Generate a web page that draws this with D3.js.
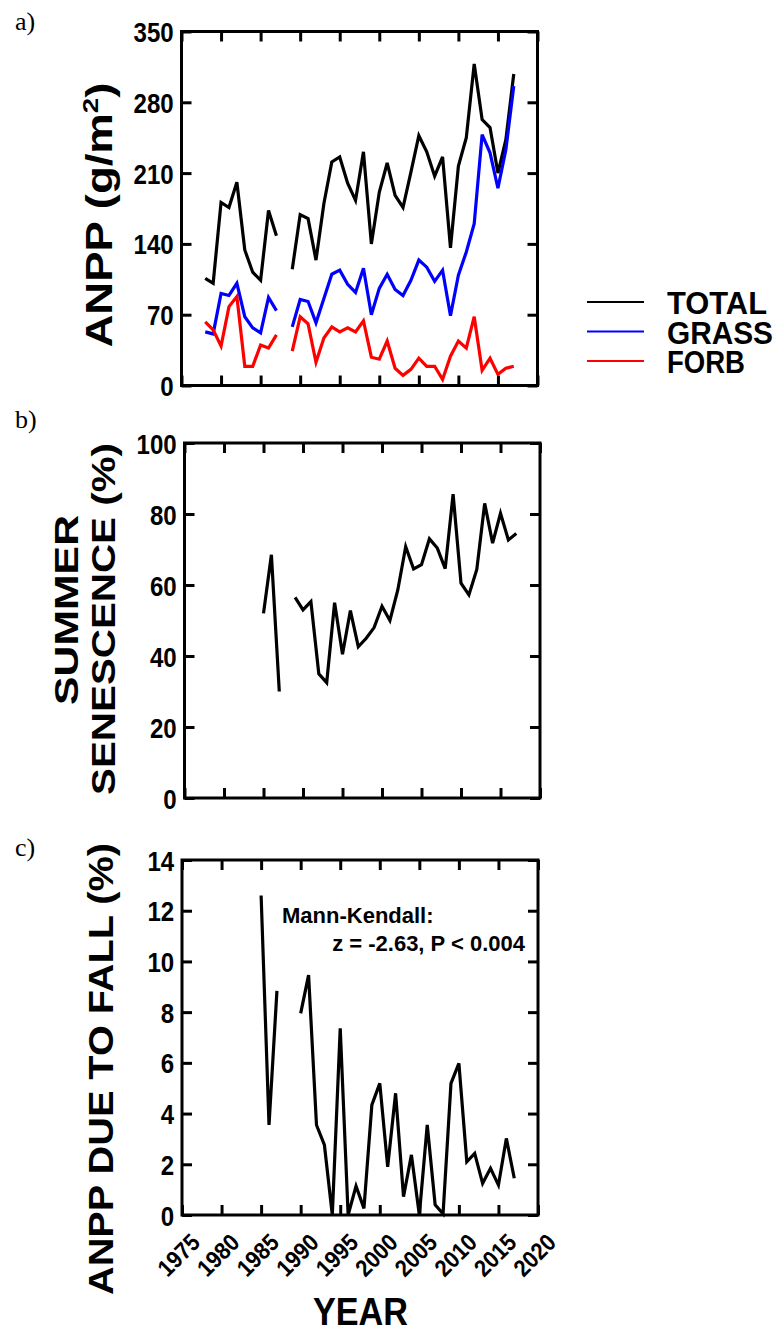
<!DOCTYPE html>
<html>
<head>
<meta charset="utf-8">
<script src="https://cdn.jsdelivr.net/npm/d3@7"></script>
<style>
  body { margin: 0; background: #fff; }
  svg text { font-family: "Liberation Sans", Arial, sans-serif; font-weight: bold; }
</style>
</head>
<body>
<div id="graph-container"></div>
<script>
// Data
var yearsA = [1978, 1979, 1980, 1981, 1982, 1983, 1984, 1985, 1986, 1987, 1988, 1989,
  1990, 1991, 1992, 1993, 1994, 1995, 1996, 1997, 1998, 1999, 2000, 2001, 2002, 2003,
  2004, 2005, 2006, 2007, 2008, 2009, 2010, 2011, 2012, 2013, 2014, 2015, 2016, 2017];
var totalANPP = [106, 101, 181, 176, 201, 134, 112, 104, 173, 148, null, 115,
  169, 165, 124, 180, 221, 226, 200, 183, 231, 140, 191, 220, 188, 176,
  211, 247, 231, 207, 226, 136, 217, 245, 318, 263, 255, 210, 243, 308];
var grassANPP = [53, 51, 91, 89, 101, 68, 57, 52, 87, 74, null, 58,
  85, 83, 62, 86, 110, 114, 100, 92, 116, 70, 96, 110, 95, 89,
  104, 124, 117, 103, 114, 69, 109, 132, 160, 248, 230, 195, 233, 296];
var forbANPP = [63, 55, 39, 78, 88, 19, 19, 40, 37, 50, null, 34,
  68, 61, 23, 47, 58, 53, 57, 53, 64, 28, 26, 44, 17, 10,
  16, 27, 19, 19, 6, 29, 44, 37, 68, 15, 27, 11, 17, 19];

var yearsB = [1985, 1986, 1987, 1988, 1989, 1990, 1991, 1992, 1993, 1994, 1995,
  1996, 1997, 1998, 1999, 2000, 2001, 2002, 2003, 2004, 2005, 2006, 2007, 2008,
  2009, 2010, 2011, 2012, 2013, 2014, 2015, 2016, 2017];
var senescence = [52, 68.5, 30, null, 56.5, 53, 55.3, 35, 32.5, 55, 40.5,
  52.8, 42.6, 45, 48, 54, 50, 58.6, 70.8, 64.5, 65.7, 73, 70.4, 64.6,
  85.6, 60.5, 57.2, 64.4, 83, 71.8, 80.2, 72.7, 74.5];
var fallANPP = [12.6, 3.55, 8.84, null, null, 7.95, 9.46, 3.55, 2.76, 0, 7.36,
  0, 1.14, 0.26, 4.34, 5.19, 1.9, 4.8, 0.72, 2.37, 0, 3.55, 0.4, 0.05,
  5.19, 5.98, 2.1, 2.43, 1.25, 1.84, 1.18, 3.02, 1.45];

var yearTicks = [1975, 1980, 1985, 1990, 1995, 2000, 2005, 2010, 2015, 2020];
var ticksA = [0, 70, 140, 210, 280, 350];
var ticksB = [0, 20, 40, 60, 80, 100];
var ticksC = [0, 2, 4, 6, 8, 10, 12, 14];

var legendNames = ["TOTAL", "GRASS", "FORB"];
var legendColors = ["#000000", "#0000ff", "#ff0000"];

var svgWidth = 781;
var svgHeight = 1333;

var svg = d3.select("#graph-container")
  .append("svg")
  .attr("width", svgWidth)
  .attr("height", svgHeight);

// one framed panel with inward ticks on all four sides
function makePanel(left, top, w, h, yMax, yTicks, showYears) {
  var g = svg.append("g").attr("transform", "translate(" + left + "," + top + ")");
  var x = d3.scaleLinear().domain([1975, 2020]).range([0, w]);
  var y = d3.scaleLinear().domain([0, yMax]).range([h, 0]);

  var bottom = g.append("g")
    .attr("transform", "translate(0," + h + ")")
    .call(d3.axisBottom(x).tickValues(yearTicks).tickSizeInner(-10).tickSizeOuter(0)
      .tickFormat(showYears ? d3.format("d") : ""));
  g.append("g")
    .call(d3.axisTop(x).tickValues(yearTicks).tickSizeInner(-10).tickSizeOuter(0).tickFormat(""));
  g.append("g")
    .attr("transform", "translate(" + w + ",0)")
    .call(d3.axisRight(y).tickValues(yTicks).tickSizeInner(-10).tickSizeOuter(0).tickFormat(""));
  var leftAx = g.append("g")
    .call(d3.axisLeft(y).tickValues(yTicks).tickSizeInner(-10).tickSizeOuter(0).tickPadding(9));

  g.selectAll(".domain").remove();
  g.selectAll(".tick line").attr("stroke", "#000").attr("stroke-width", 3);

  // labels in the figure are a little narrower than Arial bold
  leftAx.selectAll("text")
    .attr("font-size", 28)
    .attr("fill", "#000")
    .attr("dy", "0.36em")
    .attr("transform", "scale(0.86,1)");

  if (showYears) {
    bottom.selectAll("text")
      .attr("font-size", 24)
      .attr("fill", "#000")
      .attr("x", 0).attr("y", 0).attr("dy", 0)
      .attr("text-anchor", "end")
      .attr("transform", "translate(19,29) rotate(-45) scale(0.9,1)");
  }

  g.append("rect")
    .attr("width", w).attr("height", h)
    .attr("fill", "none")
    .attr("stroke", "#000")
    .attr("stroke-width", 3);

  return { g: g, x: x, y: y };
}

function drawLine(p, years, values, color) {
  var line = d3.line()
    .defined(function (d, i) { return values[i] !== null; })
    .x(function (d, i) { return p.x(years[i]); })
    .y(function (d, i) { return p.y(values[i]); });
  p.g.append("path")
    .datum(values)
    .attr("d", line)
    .attr("fill", "none")
    .attr("stroke", color)
    .attr("stroke-width", 3.2);
}

function vertTitle(text, cx, cy, len, size) {
  return svg.append("text")
    .attr("transform", "translate(" + cx + "," + cy + ") rotate(-90)")
    .attr("text-anchor", "middle")
    .attr("font-size", size)
    .attr("textLength", len)
    .attr("lengthAdjust", "spacingAndGlyphs")
    .text(text);
}

// Panel a
var pa = makePanel(181.5, 31.5, 356, 354, 350, ticksA, false);
drawLine(pa, yearsA, totalANPP, legendColors[0]);
drawLine(pa, yearsA, grassANPP, legendColors[1]);
drawLine(pa, yearsA, forbANPP, legendColors[2]);

// Panel b
var pb = makePanel(184.5, 443, 355.5, 355, 100, ticksB, false);
drawLine(pb, yearsB, senescence, "#000");

// Panel c
var pc = makePanel(182, 860, 356, 355, 14, ticksC, true);
drawLine(pc, yearsB, fallANPP, "#000");

// Axis titles
var ta = svg.append("text")
  .attr("transform", "translate(112,215) rotate(-90)")
  .attr("text-anchor", "middle")
  .attr("font-size", 36)
  .attr("textLength", 265)
  .attr("lengthAdjust", "spacingAndGlyphs");
ta.append("tspan").text("ANPP (g/m");
ta.append("tspan").attr("font-size", 22).attr("dy", -14).text("2");
ta.append("tspan").attr("dy", 14).text(")");

vertTitle("SUMMER", 78, 610, 190, 33);
vertTitle("SENESCENCE (%)", 115, 619, 352, 33);
vertTitle("ANPP DUE TO FALL (%)", 113, 1069, 452, 35);

svg.append("text")
  .attr("x", 313).attr("y", 1325)
  .attr("font-size", 39)
  .attr("textLength", 95)
  .attr("lengthAdjust", "spacingAndGlyphs")
  .text("YEAR");

// Panel letters
var letters = [["a)", 15, 30], ["b)", 15, 428], ["c)", 15, 856]];
svg.selectAll(".panel-letter")
  .data(letters)
  .enter()
  .append("text")
  .attr("class", "panel-letter")
  .attr("x", function (d) { return d[1]; })
  .attr("y", function (d) { return d[2]; })
  .attr("font-size", 26)
  .style("font-family", "'Liberation Serif', 'Times New Roman', serif")
  .style("font-weight", "normal")
  .text(function (d) { return d[0]; });

// Legend
var legendWidths = [100, 106, 78];
var legend = svg.append("g").attr("transform", "translate(587,302)");
legendNames.forEach(function (name, i) {
  legend.append("line")
    .attr("x1", 0).attr("x2", 57)
    .attr("y1", i * 29.5).attr("y2", i * 29.5)
    .attr("stroke", legendColors[i])
    .attr("stroke-width", 2);
  legend.append("text")
    .attr("x", 80).attr("y", i * 29.5 + 12)
    .attr("font-size", 31)
    .attr("textLength", legendWidths[i])
    .attr("lengthAdjust", "spacingAndGlyphs")
    .text(name);
});

// Mann-Kendall annotation
svg.append("text")
  .attr("x", 282).attr("y", 923)
  .attr("font-size", 22)
  .text("Mann-Kendall:");
svg.append("text")
  .attr("x", 525).attr("y", 951)
  .attr("text-anchor", "end")
  .attr("font-size", 22)
  .text("z = -2.63, P < 0.004");
</script>
</body>
</html>
